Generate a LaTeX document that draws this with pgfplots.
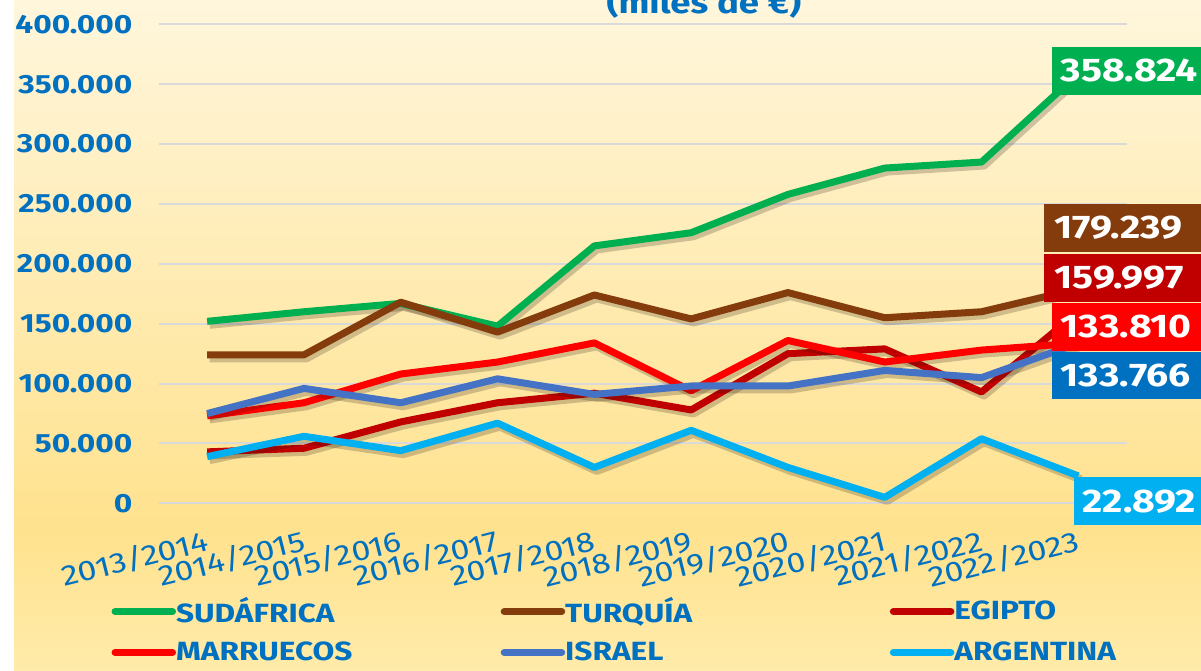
\documentclass[border=0pt]{standalone}
\usepackage{pgfplots}
\usepackage{pgfplotstable}
\pgfplotsset{compat=1.18}
\usepackage{fontspec}
\setmainfont{Fira Sans}[FakeStretch=1.2]
\definecolor{tickblue}{HTML}{0070C0}
\definecolor{cSud}{HTML}{00B050}
\definecolor{cTur}{HTML}{843C0C}
\definecolor{cEgi}{HTML}{C00000}
\definecolor{cMar}{HTML}{FF0000}
\definecolor{cIsr}{HTML}{4472C4}
\definecolor{cArg}{HTML}{00B0F0}
\definecolor{bgTop}{HTML}{FFF6DC}
\definecolor{bgMid}{HTML}{FFE28E}
\definecolor{bgBot}{HTML}{FFEBAA}
\definecolor{gridc}{HTML}{D9D9D9}

\pgfplotstableread{
x SUD TUR EGI MAR ISR ARG
0 152000 124000 43000 73000 75000 39000
1 160000 124000 46000 84000 96000 56000
2 167000 168000 68000 108000 84000 44000
3 148000 143000 84000 118000 104000 67000
4 215000 174000 92000 134000 91000 30000
5 226000 154000 78000 94000 98000 61000
6 258000 176000 125000 136000 98000 30000
7 280000 155000 129000 118000 111000 5000
8 285000 160000 93000 128000 105000 54000
9 358824 179239 159997 133810 133766 22892
}\datatable

\begin{document}
\begin{tikzpicture}[x=0.6pt,y=0.6pt]
\clip (0,0) rectangle (1201,671);
\fill[white] (0,0) rectangle (1201,671);
\shade[top color=bgTop, bottom color=bgMid] (14,141) rectangle (1201,671);
\shade[top color=bgMid, bottom color=bgBot] (14,0) rectangle (1201,141.5);
\node[overlay, anchor=base, font=\bfseries\fontsize{18.3}{20}\selectfont, text=tickblue, inner sep=0pt] at (704,657) {(miles de €)};
\begin{axis}[
  at={(164,140)}, anchor=south west, scale only axis,
  width=580.8pt, height=287.4pt,
  xmin=-0.5, xmax=9.5, ymin=0, ymax=400000,
  clip=false,
  axis line style={draw=none},
  major tick length=0pt,
  ymajorgrids, grid style={gridc, line width=1.2pt},
  xtick={0,...,9},
  xticklabels={2013/2014,2014/2015,2015/2016,2016/2017,2017/2018,2018/2019,2019/2020,2020/2021,2021/2022,2022/2023},
  xticklabel style={rotate=14, anchor=north east, inner sep=0pt, yshift=-13.8pt, xshift=-5pt, text=tickblue, font=\fontsize{17}{18}\selectfont},
  ytick={0,50000,...,400000},
  scaled y ticks=false,
  yticklabel style={anchor=east, inner sep=0pt, xshift=-15.6pt, text=tickblue, font=\bfseries\fontsize{15.8}{16}\selectfont, /pgf/number format/.cd, fixed, precision=0, 1000 sep={.}, assume math mode=true},
  legend columns=3,
  legend style={at={(axis description cs:-0.0491,-0.1963)}, anchor=north west, draw=none, fill=none, inner sep=0pt, row sep=9.9pt, text=tickblue, font=\bfseries\fontsize{15.8}{16}\selectfont, nodes={inner sep=0pt}, /tikz/every even column/.append style={column sep=0pt}},
  legend image code/.code={\draw[line width=4.2pt, line cap=round, #1] (2.1pt,0pt) -- (36.6pt,0pt);},
  every axis plot/.append style={line width=4.2pt, line join=round},
]
\addplot[forget plot, draw=black!80!brown, opacity=0.22, line width=5pt, xshift=1.5pt, yshift=-2pt] table[x=x,y=SUD] {\datatable};
\addplot[cSud] table[x=x,y=SUD] {\datatable};
\addlegendentry{\makebox[194.8pt][l]{SUDÁFRICA}}
\addplot[forget plot, draw=black!80!brown, opacity=0.22, line width=5pt, xshift=1.5pt, yshift=-2pt] table[x=x,y=TUR] {\datatable};
\addplot[cTur] table[x=x,y=TUR] {\datatable};
\addlegendentry{\makebox[194.8pt][l]{TURQUÍA}}
\addplot[forget plot, draw=black!80!brown, opacity=0.22, line width=5pt, xshift=1.5pt, yshift=-2pt] table[x=x,y=EGI] {\datatable};
\addplot[cEgi] table[x=x,y=EGI] {\datatable};
\addlegendentry{\makebox[194.8pt][l]{EGIPTO}}
\addplot[forget plot, draw=black!80!brown, opacity=0.22, line width=5pt, xshift=1.5pt, yshift=-2pt] table[x=x,y=MAR] {\datatable};
\addplot[cMar] table[x=x,y=MAR] {\datatable};
\addlegendentry{\makebox[194.8pt][l]{MARRUECOS}}
\addplot[forget plot, draw=black!80!brown, opacity=0.22, line width=5pt, xshift=1.5pt, yshift=-2pt] table[x=x,y=ISR] {\datatable};
\addplot[cIsr] table[x=x,y=ISR] {\datatable};
\addlegendentry{\makebox[194.8pt][l]{ISRAEL}}
\addplot[forget plot, draw=black!80!brown, opacity=0.22, line width=5pt, xshift=1.5pt, yshift=-2pt] table[x=x,y=ARG] {\datatable};
\addplot[cArg] table[x=x,y=ARG] {\datatable};
\addlegendentry{\makebox[194.8pt][l]{ARGENTINA}}

\tikzset{vlab/.style={overlay, anchor=west, text=white, inner xsep=5.4pt, inner ysep=0pt, minimum height=28.6pt, font=\bfseries\fontsize{19.6}{20}\selectfont}}
\node[vlab, fill=cSud, xshift=-16.2pt] at (axis cs:9,361200) {358.824\hspace*{10pt}};
\node[vlab, fill=cTur, xshift=-21pt, inner xsep=6.6pt] at (axis cs:9,230000) {179.239\hspace*{10pt}};
\node[vlab, fill=cEgi, xshift=-21pt, inner xsep=6.6pt] at (axis cs:9,188300) {159.997\hspace*{10pt}};
\node[vlab, fill=cMar, xshift=-16.2pt] at (axis cs:9,147400) {133.810\hspace*{10pt}};
\node[vlab, fill=tickblue, xshift=-16.2pt] at (axis cs:9,106900) {133.766\hspace*{10pt}};
\node[vlab, fill=cArg, xshift=-3pt] at (axis cs:9,1700) {22.892\hspace*{10pt}};
\end{axis}
\end{tikzpicture}
\end{document}
